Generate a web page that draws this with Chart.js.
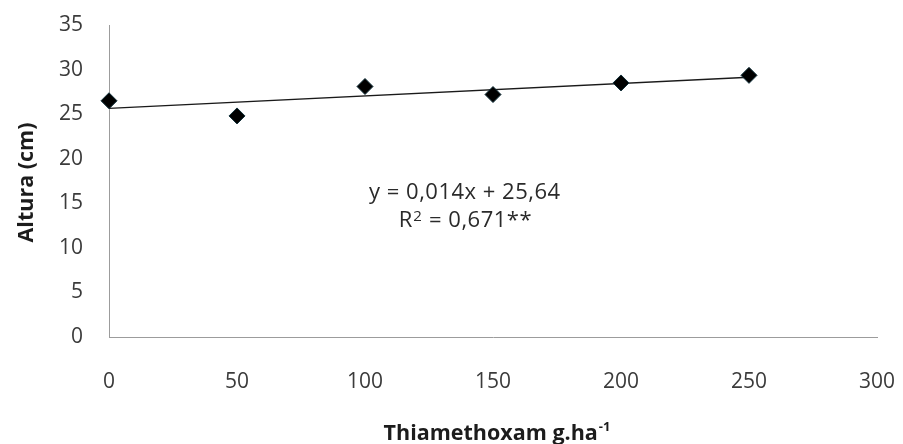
<!DOCTYPE html>
<html>
<head>
<meta charset="utf-8">
<script src="https://cdn.jsdelivr.net/npm/chart.js@4.4.1/dist/chart.umd.min.js"></script>
<style>
  html, body { margin: 0; padding: 0; background: #fff; }
  #wrap { width: 903px; height: 444px; }
</style>
</head>
<body>
<div id="wrap"><canvas id="c" width="903" height="444"></canvas></div>
<script>
// Plant height (cm) by thiamethoxam dose (g/ha)
const doses = [0, 50, 100, 150, 200, 250];
const heights = [26.5, 24.8, 28.1, 27.2, 28.5, 29.35];

// Fitted linear regression, as printed on the chart
const slope = 0.014;
const intercept = 25.64;
const trendRange = [0, 250];

const xTickValues = [0, 50, 100, 150, 200, 250, 300];
const yTickValues = [0, 5, 10, 15, 20, 25, 30, 35];

const xTitle = 'Thiamethoxam g.ha';
const xTitleSup = '-1';
const yTitle = 'Altura (cm)';
const equationText = 'y = 0,014x + 25,64';
const r2Prefix = 'R';
const r2Sup = '2';
const r2Rest = ' = 0,671**';

// baselines of the regression text, in axis units
const eqAnchor = { x: 139, y: 15.5 };
const r2Anchor = { x: 139, y: 12.35 };

const FONT = '"Open Sans", "Liberation Sans", sans-serif';
const TICK_COLOR = '#3b3b3b';
const TEXT_COLOR = '#1c1c1c';

const trendPoints = trendRange.map(x => ({ x, y: intercept + slope * x }));
const markerPoints = doses.map((x, i) => ({ x, y: heights[i] }));

// Draws the axis titles and the regression text
const textPlugin = {
  id: 'chartText',
  afterDraw(chart) {
    const { ctx, scales } = chart;
    ctx.save();
    ctx.fillStyle = TEXT_COLOR;
    ctx.textBaseline = 'alphabetic';

    // y-axis title, rotated
    ctx.font = 'bold 21.5px ' + FONT;
    ctx.textAlign = 'center';
    ctx.save();
    ctx.translate(33, 182.5);
    ctx.rotate(-Math.PI / 2);
    ctx.fillText(yTitle, 0, 0);
    ctx.restore();

    // x-axis title with superscript
    ctx.textAlign = 'left';
    ctx.font = 'bold 21.5px ' + FONT;
    const baseW = ctx.measureText(xTitle).width;
    ctx.font = 'bold 13px ' + FONT;
    const supW = ctx.measureText(xTitleSup).width;
    const cx = 497;
    const ty = 440;
    const x0 = cx - (baseW + supW + 1) / 2;
    ctx.font = 'bold 21.5px ' + FONT;
    ctx.fillText(xTitle, x0, ty);
    ctx.font = 'bold 13px ' + FONT;
    ctx.fillText(xTitleSup, x0 + baseW + 1, ty - 9);

    // regression equation
    ctx.fillStyle = '#2a2a2a';
    ctx.letterSpacing = '0.5px';
    ctx.font = '22px ' + FONT;
    ctx.textAlign = 'center';
    ctx.fillText(equationText, scales.x.getPixelForValue(eqAnchor.x), scales.y.getPixelForValue(eqAnchor.y));

    // R squared line with superscript 2
    ctx.textAlign = 'left';
    ctx.font = '22px ' + FONT;
    const rW = ctx.measureText(r2Prefix).width;
    const restW = ctx.measureText(r2Rest).width;
    ctx.font = '15px ' + FONT;
    const sW = ctx.measureText(r2Sup).width;
    const rx = scales.x.getPixelForValue(r2Anchor.x) - (rW + sW + restW) / 2;
    const ry = scales.y.getPixelForValue(r2Anchor.y);
    ctx.font = '22px ' + FONT;
    ctx.fillText(r2Prefix, rx, ry);
    ctx.font = '15px ' + FONT;
    ctx.fillText(r2Sup, rx + rW + 0.5, ry - 6);
    ctx.font = '22px ' + FONT;
    ctx.fillText(r2Rest, rx + rW + sW + 1, ry);

    ctx.restore();
  }
};

new Chart(document.getElementById('c'), {
  type: 'scatter',
  data: {
    datasets: [
      {
        label: 'Altura',
        data: markerPoints,
        pointStyle: 'rectRot',
        pointRadius: 8,
        pointBackgroundColor: '#000',
        pointBorderColor: '#0d2c36',
        pointBorderWidth: 1,
        showLine: false,
        clip: false
      },
      {
        label: 'Linear',
        data: trendPoints,
        showLine: true,
        pointRadius: 0,
        borderColor: '#1a1a1a',
        borderWidth: 1.3,
        clip: false
      }
    ]
  },
  options: {
    responsive: false,
    devicePixelRatio: 1,
    animation: false,
    layout: { padding: { top: 25, right: 26, left: 0, bottom: 0 } },
    plugins: { legend: { display: false }, tooltip: { enabled: false } },
    scales: {
      x: {
        type: 'linear',
        min: 0,
        max: 300,
        afterBuildTicks(scale) { scale.ticks = xTickValues.map(v => ({ value: v })); },
        afterFit(scale) {
          scale.height = 107;
          scale.paddingLeft = 0;
          scale.paddingRight = 0;
        },
        ticks: { font: { family: FONT, size: 21 }, color: TICK_COLOR, padding: 32, maxRotation: 0, autoSkip: false },
        grid: { display: false, drawTicks: false },
        border: { display: true, color: '#9c9c9c', width: 1 }
      },
      y: {
        type: 'linear',
        min: 0,
        max: 35,
        afterBuildTicks(scale) { scale.ticks = yTickValues.map(v => ({ value: v })); },
        afterFit(scale) {
          scale.width = 109;
          scale.paddingTop = 0;
          scale.paddingBottom = 0;
        },
        ticks: { font: { family: FONT, size: 21 }, color: TICK_COLOR, padding: 26, autoSkip: false },
        grid: { display: false, drawTicks: false },
        border: { display: true, color: '#9c9c9c', width: 1 }
      }
    }
  },
  plugins: [textPlugin]
});
</script>
</body>
</html>
